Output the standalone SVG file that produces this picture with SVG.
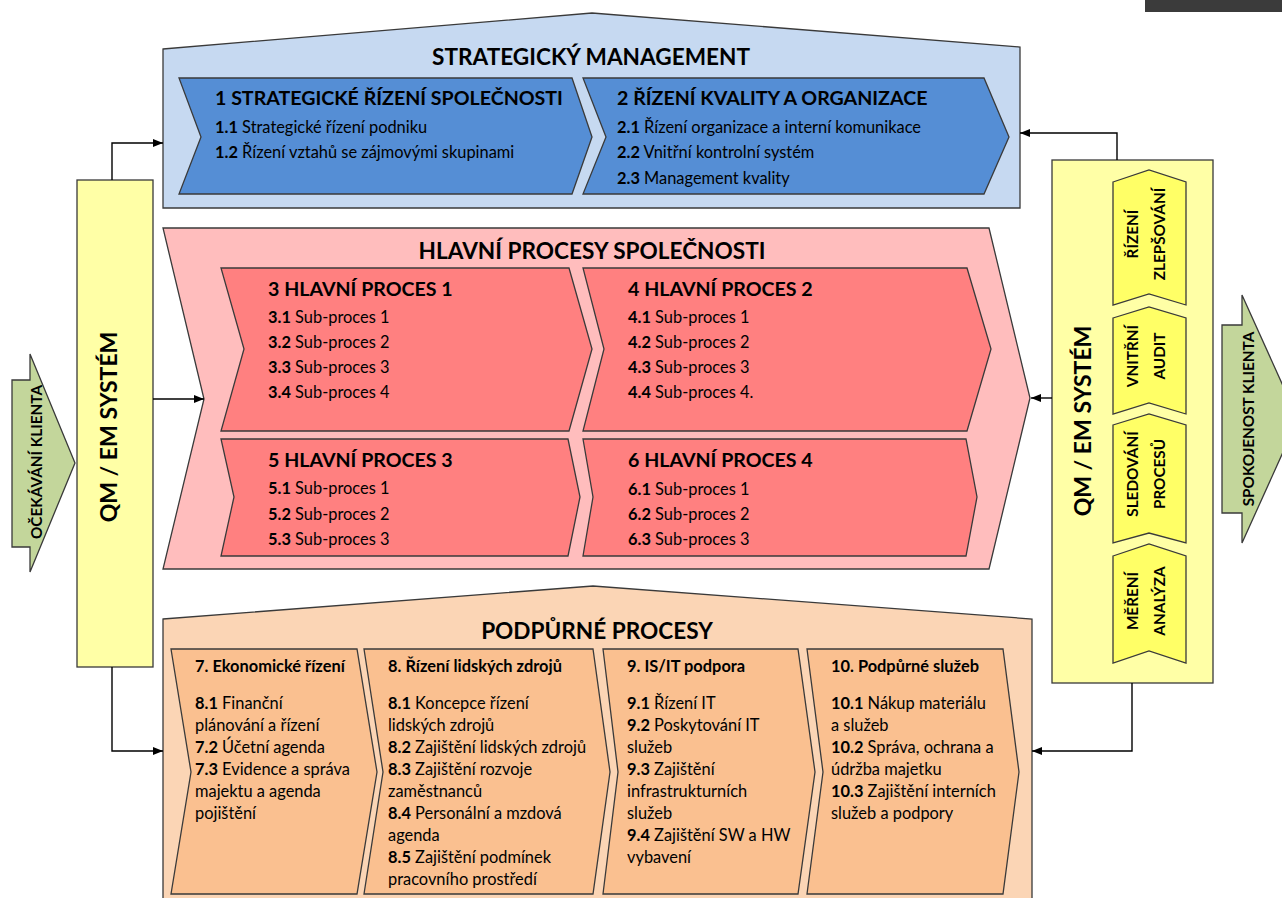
<svg xmlns="http://www.w3.org/2000/svg" width="1282" height="898" viewBox="0 0 1282 898">
<defs>
<marker id="ah" markerUnits="userSpaceOnUse" markerWidth="10" markerHeight="8" refX="10" refY="4" orient="auto">
<path d="M0,0 L10,4 L0,8 z" fill="#000"/>
</marker>
<style>
text{font-family:Lato,"Liberation Sans",sans-serif;fill:#000}
.sh{stroke:#3a3a3a;stroke-width:1.3;stroke-linejoin:miter}
.h1{font-size:22.6px;font-weight:bold;text-anchor:middle}
.h2{font-size:19.6px;font-weight:bold}
.it{font-size:16.4px}
.bt{font-size:16.4px;font-weight:bold}
.b{font-weight:bold}
.vq{font-size:23px;font-weight:bold;text-anchor:middle}
.vs{font-size:15.3px;font-weight:bold;text-anchor:middle}
.con{fill:none;stroke:#000;stroke-width:1.4}
</style>
</defs>
<rect x="1145" y="0" width="137" height="12" fill="#3b3b3b"/>

<g id="strategicky-management">
<polygon class="sh" fill="#c6d9f1" points="163,49 592,13 1020,47 1020,208 163,208"/>
<text class="h1" x="591" y="65">STRATEGICKÝ MANAGEMENT</text>
</g>
<g id="box1">
<polygon class="sh" fill="#558ed5" points="179,78 572,78 592,137 572,194 179,194 201,137"/>
<text class="h2" x="215" y="105">1 STRATEGICKÉ ŘÍZENÍ SPOLEČNOSTI</text>
<text class="it" x="215" y="133"><tspan class="b">1.1</tspan> Strategické řízení podniku</text>
<text class="it" x="215" y="158"><tspan class="b">1.2</tspan> Řízení vztahů se zájmovými skupinami</text>
</g>
<g id="box2">
<polygon class="sh" fill="#558ed5" points="583,78 984,78 1009,137 984,194 583,194 606,137"/>
<text class="h2" x="617" y="105">2 ŘÍZENÍ KVALITY A ORGANIZACE</text>
<text class="it" x="617" y="133"><tspan class="b">2.1</tspan> Řízení organizace a interní komunikace</text>
<text class="it" x="617" y="158"><tspan class="b">2.2</tspan> Vnitřní kontrolní systém</text>
<text class="it" x="617" y="184"><tspan class="b">2.3</tspan> Management kvality</text>
</g>

<g id="hlavni-procesy">
<polygon class="sh" fill="#ffbdbd" points="163,228 989,228 1030,398 989,569 163,569 204,399"/>
<text class="h1" x="592" y="259">HLAVNÍ PROCESY SPOLEČNOSTI</text>
</g>
<g id="box3">
<polygon class="sh" fill="#ff8080" points="221,268 569,268 592,349 569,431 221,431 244,349"/>
<text class="h2" x="268" y="296">3 HLAVNÍ PROCES 1</text>
<text class="it" x="268" y="323"><tspan class="b">3.1</tspan> Sub-proces 1</text>
<text class="it" x="268" y="348"><tspan class="b">3.2</tspan> Sub-proces 2</text>
<text class="it" x="268" y="373"><tspan class="b">3.3</tspan> Sub-proces 3</text>
<text class="it" x="268" y="398"><tspan class="b">3.4</tspan> Sub-proces 4</text>
</g>
<g id="box4">
<polygon class="sh" fill="#ff8080" points="583,268 967,268 991,349 967,431 583,431 604,349"/>
<text class="h2" x="628" y="296">4 HLAVNÍ PROCES 2</text>
<text class="it" x="628" y="323"><tspan class="b">4.1</tspan> Sub-proces 1</text>
<text class="it" x="628" y="348"><tspan class="b">4.2</tspan> Sub-proces 2</text>
<text class="it" x="628" y="373"><tspan class="b">4.3</tspan> Sub-proces 3</text>
<text class="it" x="628" y="398"><tspan class="b">4.4</tspan> Sub-proces 4.</text>
</g>
<g id="box5">
<polygon class="sh" fill="#ff8080" points="221,439 568,439 580,497 568,556 221,556 234,497"/>
<text class="h2" x="268" y="467">5 HLAVNÍ PROCES 3</text>
<text class="it" x="268" y="494"><tspan class="b">5.1</tspan> Sub-proces 1</text>
<text class="it" x="268" y="520"><tspan class="b">5.2</tspan> Sub-proces 2</text>
<text class="it" x="268" y="545"><tspan class="b">5.3</tspan> Sub-proces 3</text>
</g>
<g id="box6">
<polygon class="sh" fill="#ff8080" points="583,439 966,439 977,497 966,556 583,556 593,497"/>
<text class="h2" x="628" y="467">6 HLAVNÍ PROCES 4</text>
<text class="it" x="628" y="495"><tspan class="b">6.1</tspan> Sub-proces 1</text>
<text class="it" x="628" y="520"><tspan class="b">6.2</tspan> Sub-proces 2</text>
<text class="it" x="628" y="545"><tspan class="b">6.3</tspan> Sub-proces 3</text>
</g>

<g id="podpurne-procesy">
<polygon class="sh" fill="#fbd5b5" points="163,619 593,586 1032,619 1032,902 163,902"/>
<text class="h1" x="597" y="639">PODPŮRNÉ PROCESY</text>
</g>
<g id="box7">
<polygon class="sh" fill="#fac090" points="171,649 357,649 377,772 357,894 171,894 191,772"/>
<text class="bt" x="195" y="672">7. Ekonomické řízení</text>
<text class="it" x="195" y="709"><tspan class="b">8.1</tspan> Finanční</text>
<text class="it" x="195" y="731">plánování a řízení</text>
<text class="it" x="195" y="753"><tspan class="b">7.2</tspan> Účetní agenda</text>
<text class="it" x="195" y="775"><tspan class="b">7.3</tspan> Evidence a správa</text>
<text class="it" x="195" y="797">majektu a agenda</text>
<text class="it" x="195" y="819">pojištění</text>
</g>
<g id="box8">
<polygon class="sh" fill="#fac090" points="364,649 593,649 610,772 593,894 364,894 383,772"/>
<text class="bt" x="388" y="672">8. Řízení lidských zdrojů</text>
<text class="it" x="388" y="709"><tspan class="b">8.1</tspan> Koncepce řízení</text>
<text class="it" x="388" y="731">lidských zdrojů</text>
<text class="it" x="388" y="753"><tspan class="b">8.2</tspan> Zajištění lidských zdrojů</text>
<text class="it" x="388" y="775"><tspan class="b">8.3</tspan> Zajištění rozvoje</text>
<text class="it" x="388" y="797">zaměstnanců</text>
<text class="it" x="388" y="819"><tspan class="b">8.4</tspan> Personální a mzdová</text>
<text class="it" x="388" y="841">agenda</text>
<text class="it" x="388" y="863"><tspan class="b">8.5</tspan> Zajištění podmínek</text>
<text class="it" x="388" y="885">pracovního prostředí</text>
</g>
<g id="box9">
<polygon class="sh" fill="#fac090" points="603,649 798,649 815,772 798,894 603,894 618,772"/>
<text class="bt" x="627" y="672">9. IS/IT podpora</text>
<text class="it" x="627" y="709"><tspan class="b">9.1</tspan> Řízení IT</text>
<text class="it" x="627" y="731"><tspan class="b">9.2</tspan> Poskytování IT</text>
<text class="it" x="627" y="753">služeb</text>
<text class="it" x="627" y="775"><tspan class="b">9.3</tspan> Zajištění</text>
<text class="it" x="627" y="797">infrastrukturních</text>
<text class="it" x="627" y="819">služeb</text>
<text class="it" x="627" y="841"><tspan class="b">9.4</tspan> Zajištění SW a HW</text>
<text class="it" x="627" y="863">vybavení</text>
</g>
<g id="box10">
<polygon class="sh" fill="#fac090" points="807,649 1003,649 1019,772 1003,894 807,894 823,772"/>
<text class="bt" x="831" y="672">10. Podpůrné služeb</text>
<text class="it" x="831" y="709"><tspan class="b">10.1</tspan> Nákup materiálu</text>
<text class="it" x="831" y="731">a služeb</text>
<text class="it" x="831" y="753"><tspan class="b">10.2</tspan> Správa, ochrana a</text>
<text class="it" x="831" y="775">údržba majetku</text>
<text class="it" x="831" y="797"><tspan class="b">10.3</tspan> Zajištění interních</text>
<text class="it" x="831" y="819">služeb a podpory</text>
</g>

<g id="qm-left">
<rect class="sh" fill="#ffffa6" x="77" y="180" width="76" height="487"/>
<text class="vq" transform="translate(108,427) rotate(-90)" y="8.5">QM / EM SYSTÉM</text>
</g>
<g id="qm-right">
<rect class="sh" fill="#ffffa6" x="1052" y="160" width="161" height="523"/>
<text class="vq" transform="translate(1082,421) rotate(-90)" y="8.5">QM / EM SYSTÉM</text>
</g>
<g id="rizeni-zlepsovani">
<polygon class="sh" fill="#ffff66" points="1113,182 1149,170 1186,182 1186,305 1149,294 1113,305"/>
<text class="vs" transform="translate(1132,234) rotate(-90)" y="5.5">ŘÍZENÍ</text>
<text class="vs" transform="translate(1159,234) rotate(-90)" y="5.5">ZLEPŠOVÁNÍ</text>
</g>
<g id="vnitrni-audit">
<polygon class="sh" fill="#ffff66" points="1113,318 1149,307 1186,318 1186,414 1149,403 1113,414"/>
<text class="vs" transform="translate(1132,356) rotate(-90)" y="5.5">VNITŘNÍ</text>
<text class="vs" transform="translate(1159,356) rotate(-90)" y="5.5">AUDIT</text>
</g>
<g id="sledovani-procesu">
<polygon class="sh" fill="#ffff66" points="1113,425 1149,414 1186,425 1186,543 1149,533 1113,543"/>
<text class="vs" transform="translate(1132,474) rotate(-90)" y="5.5">SLEDOVÁNÍ</text>
<text class="vs" transform="translate(1159,474) rotate(-90)" y="5.5">PROCESŮ</text>
</g>
<g id="mereni-analyza">
<polygon class="sh" fill="#ffff66" points="1113,556 1149,544 1186,556 1186,663 1149,651 1113,663"/>
<text class="vs" transform="translate(1132,601) rotate(-90)" y="5.5">MĚŘENÍ</text>
<text class="vs" transform="translate(1159,601) rotate(-90)" y="5.5">ANALÝZA</text>
</g>
<g id="ocekavani-klienta">
<polygon class="sh" fill="#c3d69b" points="12,380 30,380 30,354 75,463 30,572 30,547 12,547"/>
<text class="vs" transform="translate(36,462) rotate(-90)" y="5.5">OČEKÁVÁNÍ KLIENTA</text>
</g>
<g id="spokojenost-klienta">
<polygon class="sh" fill="#c3d69b" points="1222,325 1242,325 1242,295 1298,419 1242,543 1242,513 1222,513"/>
<text class="vs" transform="translate(1248,419) rotate(-90)" y="5.5">SPOKOJENOST KLIENTA</text>
</g>

<g id="connectors">
<path class="con" d="M112,180 V143 H163" marker-end="url(#ah)"/>
<path class="con" d="M153,399 H204" marker-end="url(#ah)"/>
<path class="con" d="M112,667 V751 H163" marker-end="url(#ah)"/>
<path class="con" d="M1117,160 V133 H1020" marker-end="url(#ah)"/>
<path class="con" d="M1052,398 H1031" marker-end="url(#ah)"/>
<path class="con" d="M1132,683 V751 H1032" marker-end="url(#ah)"/>
</g>
</svg>
